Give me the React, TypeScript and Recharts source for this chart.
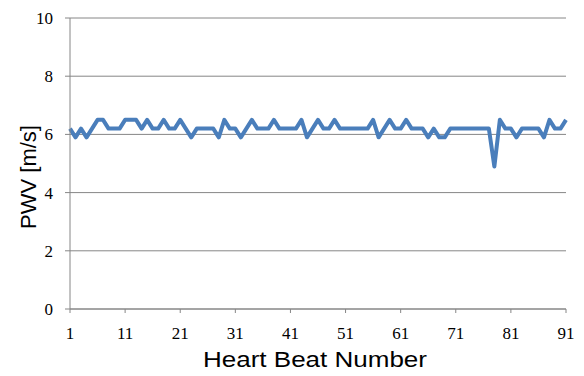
import { LineChart, Line, XAxis, YAxis, CartesianGrid } from "recharts";

// heart beat index (category axis)
const beats = [
  1, 2, 3, 4, 5, 6, 7, 8, 9, 10,
  11, 12, 13, 14, 15, 16, 17, 18, 19, 20,
  21, 22, 23, 24, 25, 26, 27, 28, 29, 30,
  31, 32, 33, 34, 35, 36, 37, 38, 39, 40,
  41, 42, 43, 44, 45, 46, 47, 48, 49, 50,
  51, 52, 53, 54, 55, 56, 57, 58, 59, 60,
  61, 62, 63, 64, 65, 66, 67, 68, 69, 70,
  71, 72, 73, 74, 75, 76, 77, 78, 79, 80,
  81, 82, 83, 84, 85, 86, 87, 88, 89, 90,
  91,
];

// pulse wave velocity per beat, m/s
const pwv = [
  6.2, 5.9, 6.2, 5.9, 6.2, 6.5, 6.5, 6.2, 6.2, 6.2,
  6.5, 6.5, 6.5, 6.2, 6.5, 6.2, 6.2, 6.5, 6.2, 6.2,
  6.5, 6.2, 5.9, 6.2, 6.2, 6.2, 6.2, 5.9, 6.5, 6.2,
  6.2, 5.9, 6.2, 6.5, 6.2, 6.2, 6.2, 6.5, 6.2, 6.2,
  6.2, 6.2, 6.5, 5.9, 6.2, 6.5, 6.2, 6.2, 6.5, 6.2,
  6.2, 6.2, 6.2, 6.2, 6.2, 6.5, 5.9, 6.2, 6.5, 6.2,
  6.2, 6.5, 6.2, 6.2, 6.2, 5.9, 6.2, 5.9, 5.9, 6.2,
  6.2, 6.2, 6.2, 6.2, 6.2, 6.2, 6.2, 4.9, 6.5, 6.2,
  6.2, 5.9, 6.2, 6.2, 6.2, 6.2, 5.9, 6.5, 6.2, 6.2,
  6.5,
];

const yTicks = [0, 2, 4, 6, 8, 10];

const data = beats.map((b, i) => ({ beat: b, pwv: pwv[i] }));

const gray = "#868686";
const serif = "'Liberation Serif', 'Times New Roman', 'DejaVu Serif', serif";
const sans = "'Liberation Sans', Arial, sans-serif";

const XTick = (props: any) => {
  const { x, y, payload } = props;
  return (
    <text x={x} y={y + 13} textAnchor="middle" fontFamily={serif} fontSize={17} fill="#000">
      {payload.value}
    </text>
  );
};

const YTick = (props: any) => {
  const { x, y, payload } = props;
  return (
    <text x={x} y={y + 6} textAnchor="end" fontFamily={serif} fontSize={17} fill="#000">
      {payload.value}
    </text>
  );
};

export default function App() {
  return (
    <div style={{ position: "absolute", left: 0, top: 0, background: "#fff", fontFamily: serif }}>
      <LineChart
        width={584}
        height={376}
        data={data}
        margin={{ top: 18, right: 18, left: 0, bottom: 0 }}
      >
        <CartesianGrid vertical={false} stroke={gray} strokeWidth={1} />
        <XAxis
          dataKey="beat"
          scale="point"
          interval={9}
          height={67}
          padding={{ left: 0, right: 0 }}
          axisLine={{ stroke: gray }}
          tickLine={{ stroke: gray }}
          tickSize={4}
          tickMargin={13}
          tick={XTick}
          label={{
            content: () => (
              <text
                x={315}
                y={367}
                textAnchor="middle"
                fontFamily={sans}
                fontSize={22}
                textLength={224}
                lengthAdjust="spacingAndGlyphs"
                fill="#000"
              >
                Heart Beat Number
              </text>
            ),
          }}
        />
        <YAxis
          domain={[0, 10]}
          ticks={yTicks}
          width={70}
          axisLine={{ stroke: gray }}
          tickLine={{ stroke: gray }}
          tickSize={5}
          tickMargin={12}
          tick={YTick}
          label={{
            content: () => (
              <text
                x={36}
                y={177}
                transform="rotate(-90 36 177)"
                textAnchor="middle"
                fontFamily={sans}
                fontSize={22}
                fill="#000"
              >
                PWV [m/s]
              </text>
            ),
          }}
        />
        <Line
          type="linear"
          dataKey="pwv"
          stroke="#4a7ebb"
          strokeWidth={4}
          strokeLinejoin="round"
          dot={false}
          isAnimationActive={false}
        />
      </LineChart>
    </div>
  );
}
